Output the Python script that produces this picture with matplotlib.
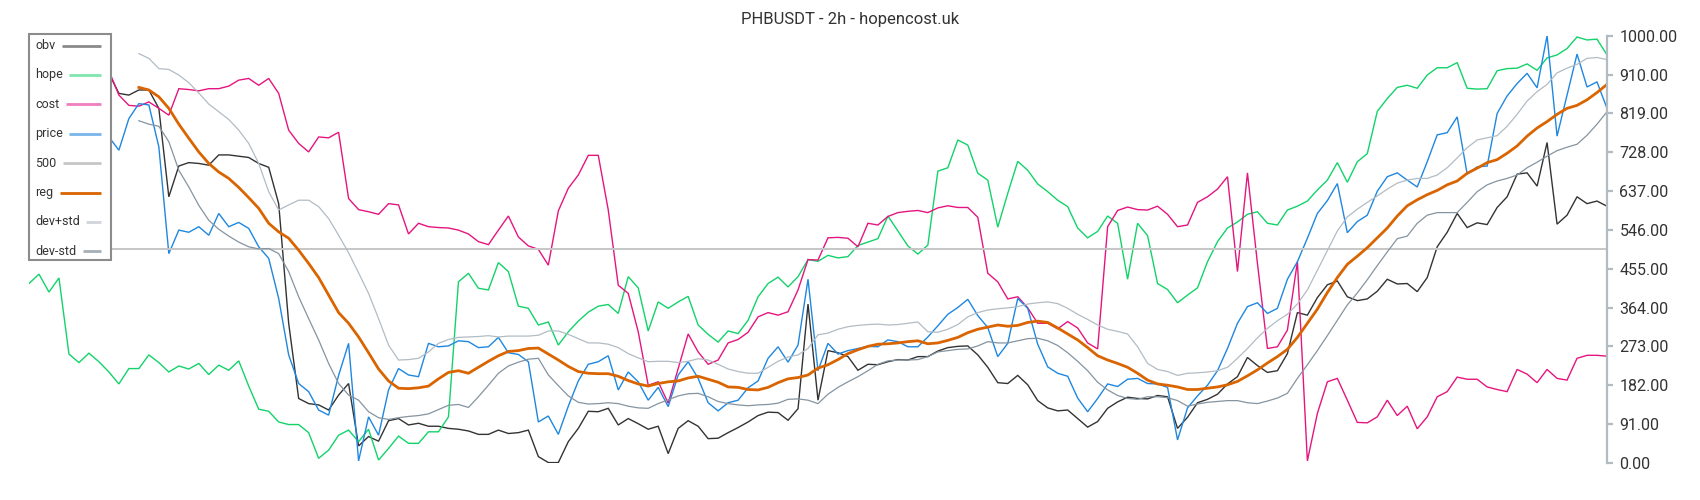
import numpy as np
import matplotlib
matplotlib.use('Agg')
import matplotlib.pyplot as plt
import matplotlib.patches as mpatches

plt.rcParams['font.family'] = ['Roboto', 'DejaVu Sans']

# values, one per 2h candle sample (normalised 0..1000)
hope = [420, 442, 400, 433, 255, 235, 257,
        237, 213, 185, 221, 221, 253, 235, 213, 227, 220, 233, 207, 229, 217, 239, 180, 126, 121, 96, 90, 90, 71, 11, 30, 65, 77, 50,
        79, 7, 34, 63, 46, 46, 73, 73, 108, 424, 444, 409, 405, 469, 448, 367, 362, 323, 330, 276, 307, 332, 353, 367, 371, 350,
        436, 410, 309, 377, 362, 377, 390, 323, 301, 283, 309, 303, 334, 389, 420, 435, 412, 436, 476, 472, 486, 480, 483, 509, 517, 525,
        578, 543, 508, 489, 510, 683, 691, 756, 744, 678, 662, 552, 631, 706, 685, 653, 635, 615, 600, 550, 527, 542, 578, 561, 430, 561,
        532, 420, 406, 375, 393, 410, 471, 518, 550, 564, 582, 588, 561, 557, 592, 601, 613, 639, 662, 703, 657, 705, 724, 823, 853, 879,
        884, 877, 908, 925, 925, 937, 877, 875, 876, 918, 923, 924, 934, 919, 948, 955, 970, 997, 990, 992, 955]

cost = [900, 905, 910, 912, 915, 918, 919,
        919, 918, 861, 837, 835, 845, 830, 814, 876, 874, 871, 876, 876, 882, 896, 900, 884, 900, 865, 779, 748, 728, 763, 761, 774, 619, 593,
        588, 582, 607, 604, 536, 561, 553, 551, 550, 545, 536, 518, 511, 545, 578, 529, 508, 500, 463, 590, 643, 674, 720, 720, 592, 416,
        397, 307, 182, 190, 140, 221, 302, 260, 231, 241, 281, 289, 306, 342, 352, 346, 354, 405, 476, 475, 527, 528, 526, 506, 561, 557,
        577, 586, 589, 591, 586, 597, 602, 598, 598, 575, 444, 424, 384, 389, 363, 327, 327, 314, 331, 316, 281, 267, 553, 591, 599, 593,
        592, 601, 582, 553, 557, 610, 623, 641, 670, 448, 679, 467, 268, 272, 311, 471, 5, 116, 190, 198, 147, 95, 94, 108, 147, 111,
        133, 80, 108, 155, 167, 201, 196, 196, 178, 172, 167, 219, 208, 188, 219, 198, 194, 245, 252, 252, 250]

obv = [880, 890, 900, 895, 905, 910, 915,
       916, 912, 865, 861, 873, 873, 830, 623, 695, 703, 701, 697, 721, 721, 718, 715, 701, 692, 607, 327, 151, 139, 136, 124, 159, 186, 40,
       62, 51, 99, 104, 89, 93, 86, 86, 81, 79, 75, 67, 67, 77, 69, 71, 77, 15, 1, 1, 50, 81, 121, 120, 128, 89,
       104, 92, 79, 86, 22, 81, 99, 86, 57, 58, 71, 83, 96, 111, 119, 118, 100, 127, 372, 147, 263, 258, 249, 217, 231, 230,
       237, 242, 241, 249, 249, 262, 270, 273, 274, 253, 224, 188, 186, 205, 183, 146, 129, 122, 124, 104, 84, 97, 128, 143, 154, 151,
       150, 158, 155, 81, 107, 141, 149, 161, 185, 202, 247, 228, 212, 216, 256, 352, 346, 387, 417, 426, 389, 380, 384, 402, 430, 419,
       420, 401, 434, 506, 540, 584, 551, 562, 558, 598, 623, 676, 679, 648, 750, 559, 580, 623, 607, 613, 601]

price = [760, 770, 780, 790, 795, 790, 787,
         787, 763, 732, 806, 841, 838, 740, 490, 545, 540, 553, 533, 584, 553, 563, 549, 506, 479, 385, 253, 186, 167, 124, 112, 205, 280, 5,
         108, 65, 171, 221, 206, 202, 280, 272, 274, 286, 284, 270, 272, 294, 258, 254, 237, 96, 110, 67, 133, 192, 231, 237, 251, 171,
         213, 190, 147, 177, 132, 206, 237, 198, 141, 122, 141, 147, 176, 192, 245, 272, 236, 276, 430, 216, 280, 255, 263, 268, 273, 272,
         288, 284, 272, 272, 295, 321, 348, 364, 383, 345, 317, 249, 280, 385, 362, 278, 225, 210, 203, 152, 120, 151, 185, 179, 196, 198,
         186, 185, 177, 54, 129, 157, 182, 216, 268, 327, 366, 375, 350, 362, 430, 471, 526, 584, 614, 654, 539, 565, 580, 636, 670, 679,
         662, 646, 705, 768, 773, 810, 676, 693, 695, 818, 859, 888, 912, 878, 1000, 765, 861, 957, 880, 892, 830]

nan = np.nan
reg = [nan] * 11 + [
    879, 873, 857, 830, 793, 760, 728, 701, 681, 666, 645, 621, 596, 561, 541, 526, 498, 467, 434, 393, 352, 327, 295,
    258, 220, 192, 175, 174, 176, 180, 197, 212, 216, 210, 224, 238, 251, 261, 263, 268, 269, 255, 241, 226, 214, 210, 209, 209, 203,
    193, 185, 180, 186, 190, 192, 199, 203, 196, 189, 178, 177, 172, 171, 177, 188, 197, 200, 206, 222, 230, 242, 256, 265, 273, 278,
    279, 281, 284, 286, 279, 281, 287, 294, 305, 313, 318, 323, 320, 322, 329, 332, 329, 316, 302, 288, 270, 251, 241, 233, 224, 210,
    194, 185, 182, 178, 172, 172, 175, 178, 183, 191, 204, 218, 234, 249, 266, 294, 327, 360, 399, 434, 465, 484, 504, 527, 550, 578,
    602, 616, 628, 638, 651, 660, 678, 690, 703, 710, 725, 742, 765, 784, 799, 816, 830, 837, 850, 867, 886]

dev_hi = [nan] * 11 + [
    958, 947, 923, 921, 908, 890, 866, 840, 822, 804, 779, 748, 701, 635, 592, 604, 615, 615, 600, 572, 533, 492, 445,
    397, 338, 276, 241, 242, 245, 260, 280, 289, 294, 295, 296, 298, 295, 297, 297, 297, 299, 309, 309, 301, 291, 281, 281, 278, 270,
    256, 246, 237, 238, 238, 235, 238, 244, 241, 231, 220, 214, 210, 210, 224, 238, 248, 253, 268, 300, 304, 313, 319, 322, 324, 325,
    323, 324, 327, 330, 307, 306, 313, 324, 342, 352, 358, 361, 363, 366, 372, 375, 377, 373, 362, 348, 336, 323, 313, 308, 302, 272,
    233, 219, 214, 205, 210, 211, 213, 216, 224, 245, 268, 293, 315, 333, 348, 372, 405, 451, 497, 543, 576, 594, 610, 625, 641, 655,
    662, 666, 666, 674, 691, 714, 738, 756, 761, 766, 788, 816, 847, 869, 886, 913, 924, 933, 947, 949, 944]

dev_lo = [nan] * 11 + [
    801, 793, 788, 752, 685, 646, 603, 568, 547, 531, 517, 506, 501, 502, 490, 448, 389, 338, 288, 233, 186, 159, 147,
    120, 106, 102, 106, 109, 111, 115, 125, 135, 137, 130, 155, 182, 210, 227, 236, 243, 245, 206, 181, 157, 142, 138, 139, 141, 139,
    133, 129, 128, 139, 148, 157, 162, 163, 155, 144, 139, 136, 134, 136, 137, 140, 149, 150, 147, 139, 161, 177, 190, 202, 216, 231,
    239, 241, 241, 242, 249, 260, 263, 266, 267, 274, 284, 281, 281, 286, 291, 292, 286, 275, 258, 238, 216, 189, 171, 158, 151, 149,
    155, 155, 153, 146, 133, 138, 142, 144, 146, 146, 141, 139, 145, 152, 163, 198, 230, 263, 298, 334, 370, 398, 429, 462, 494, 525,
    531, 561, 580, 586, 586, 586, 610, 635, 651, 660, 666, 674, 691, 704, 718, 731, 739, 746, 767, 793, 822]

n = len(hope)
for s in (cost, obv, price, reg, dev_hi, dev_lo):
    assert len(s) == n, len(s)
mid = np.full(n, 500.0)

tick_vals = [i * 1000 / 11 for i in range(12)]
tick_labels = ['0.00', '91.00', '182.00', '273.00', '364.00', '455.00',
               '546.00', '637.00', '728.00', '819.00', '910.00', '1000.00']

# (label, data, line colour, legend colour, width)
series = [
    ('obv',     obv,    '#333333', '#8a8a8a', 1.0),
    ('hope',    hope,   '#12d36a', '#7fe6ad', 1.0),
    ('cost',    cost,   '#e5157f', '#ef7fbd', 1.0),
    ('price',   price,  '#1f87e0', '#78b6ea', 1.0),
    ('500',     mid,    '#c6c6c6', '#c6c6c6', 1.4),
    ('reg',     reg,    '#d96400', '#d96400', 2.0),
    ('dev+std', dev_hi, '#b2bcc4', '#d0d5d9', 0.9),
    ('dev-std', dev_lo, '#8594a0', '#a5afb7', 0.9),
]

W, H = 1700, 500
fig = plt.figure(figsize=(W / 100, H / 100), dpi=100, facecolor='white')
x0, x1 = 29, 1607
y_top, y_bot = 35.7, 463
ax = fig.add_axes([x0 / W, 1 - y_bot / H, (x1 - x0) / W, (y_bot - y_top) / H])
ax.set_facecolor('white')

x = np.arange(n)
for label, data, col, _, lw in series:
    ax.plot(x, data, color=col, lw=lw, solid_joinstyle='miter')

ax.set_xlim(0, n - 1)
ax.set_ylim(0, 1000)
for side in ('left', 'top', 'bottom'):
    ax.spines[side].set_visible(False)
ax.spines['right'].set_color('#b3bbc2')
ax.spines['right'].set_linewidth(1.6)
ax.set_xticks([])
ax.yaxis.tick_right()
ax.set_yticks(tick_vals)
ax.set_yticklabels(tick_labels)
ax.tick_params(axis='y', direction='out', length=4, width=1.6, color='#b3bbc2',
               labelsize=11.5, labelcolor='#333333', pad=5)

fig.text(0.5, 1 - 19.5 / H, 'PHBUSDT - 2h - hopencost.uk', ha='center', va='center',
         fontsize=12, color='#333333')

# legend box, drawn by hand in pixel coordinates
lax = fig.add_axes([0, 0, 1, 1], zorder=5)
lax.set_xlim(0, W)
lax.set_ylim(H, 0)
lax.axis('off')
lax.add_patch(mpatches.Rectangle((29.5, 34), 81.5, 226, facecolor='white',
                                 edgecolor='#8c8c8c', lw=1.5))
renderer = fig.canvas.get_renderer()
for k, (label, _, _, lcol, _) in enumerate(series):
    yy = 45.5 + k * 29.4
    t = lax.text(35.5, yy, label, ha='left', va='center', fontsize=9, color='#333333')
    bb = t.get_window_extent(renderer)
    lax.plot([bb.x1 + 6, 100.6], [yy, yy], color=lcol, lw=2.0, solid_capstyle='butt')

fig.savefig('out.png', dpi=100, facecolor='white')
